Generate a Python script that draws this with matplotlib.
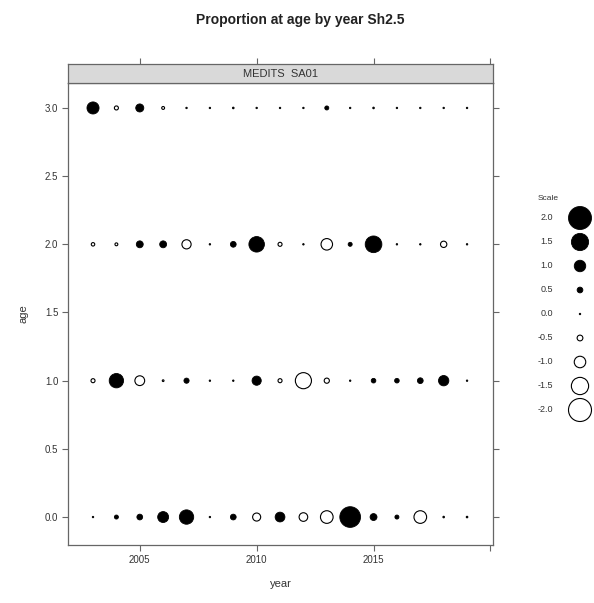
import matplotlib
matplotlib.use("Agg")
import matplotlib.pyplot as plt
import numpy as np

years = list(range(2003, 2020))
ages = [0, 1, 2, 3]
age0 = [0.10, 0.35, 0.50, 0.95, 1.25, 0.05, 0.50, -0.70, 0.85, -0.75, -1.10, 1.80, 0.60, 0.35, -1.10, -0.10, -0.05]
age1 = [-0.35, 1.25, -0.85, -0.15, 0.45, 0.10, 0.05, 0.80, -0.35, -1.40, -0.45, 0.05, 0.40, 0.40, 0.50, 0.90, 0.10]
age2 = [-0.30, -0.25, 0.60, 0.60, -0.80, 0.05, 0.50, 1.35, -0.35, 0.10, -1.00, 0.35, 1.45, 0.10, 0.10, -0.55, 0.10]
age3 = [1.05, -0.35, 0.70, -0.25, 0.10, 0.05, -0.05, 0.05, 0.05, 0.05, 0.35, 0.05, -0.10, 0.05, 0.05, 0.05, 0.05]
scale_vals = [2.0, 1.5, 1.0, 0.5, 0.0, -0.5, -1.0, -1.5, -2.0]
scale_labels = ["2.0", "1.5", "1.0", "0.5", "0.0", "-0.5", "-1.0", "-1.5", "-2.0"]
xticks = [2005, 2010, 2015, 2020]
xticklabels = ["2005", "2010", "2015", ""]
yticks = [0.0, 0.5, 1.0, 1.5, 2.0, 2.5, 3.0]

W, H = 594, 603
fig = plt.figure(figsize=(W / 100, H / 100), dpi=100)
plt.rcParams['font.family'] = ['Liberation Sans', 'DejaVu Sans']
TXT = '#333333'
LINE = '#666666'

def sizes(vals):
    d_px = np.maximum(np.abs(np.array(vals)) * 11.5, 1.5)
    return (d_px * 0.72) ** 2

def draw(ax, x, y, vals):
    vals = np.array(vals)
    pos = vals >= 0
    x = np.array(x); y = np.array(y)
    s = sizes(vals)
    ax.scatter(x[pos], y[pos], s=s[pos], c='black', edgecolors='black', linewidths=0.6, zorder=3)
    ax.scatter(x[~pos], y[~pos], s=s[~pos], facecolors='white', edgecolors='black', linewidths=0.8, zorder=3)

# main panel
L, R, T, B = 68, 493, 83, 545
ax = fig.add_axes([L / W, 1 - B / H, (R - L) / W, (B - T) / H])
for a, vals in zip(ages, [age0, age1, age2, age3]):
    draw(ax, years, [a] * len(years), vals)
ax.set_xlim(2001.93, 2020.11)
ax.set_ylim(-0.205, 3.183)
ax.set_xticks(xticks)
ax.set_xticklabels(xticklabels, fontsize=7, color=TXT)
ax.set_yticks(yticks)
ax.set_yticklabels([f"{v:.1f}" for v in yticks], fontsize=7, color=TXT)
ax.tick_params(axis='both', direction='out', length=4, width=0.8, color=LINE, pad=3,
               right=True, top=False)
ax.tick_params(axis='y', labelright=False)
for sp in ax.spines.values():
    sp.set_color(LINE)
    sp.set_linewidth(0.9)
ax.set_xlabel("year", fontsize=8, color=TXT, labelpad=10)
ax.set_ylabel("age", fontsize=8, color=TXT, labelpad=12)

# strip
ST = 64
sax = fig.add_axes([L / W, 1 - T / H, (R - L) / W, (T - ST) / H])
sax.set_facecolor('#d9d9d9')
sax.set_xlim(ax.get_xlim())
sax.set_xticks(xticks)
sax.set_xticklabels([])
sax.set_yticks([])
sax.tick_params(axis='x', direction='out', length=4, width=0.8, color=LINE, top=True, bottom=False,
                labeltop=False, labelbottom=False)
for sp in sax.spines.values():
    sp.set_color(LINE)
    sp.set_linewidth(0.9)
sax.text(0.5, 0.45, "MEDITS  SA01", transform=sax.transAxes, ha='center', va='center',
         fontsize=8, color=TXT)

fig.text(300 / W, 1 - 20 / H, "Proportion at age by year Sh2.5", ha='center', va='center',
         fontsize=10, fontweight='bold', color='#222222')

# legend
lax = fig.add_axes([0, 0, 1, 1])
lax.set_xlim(0, W)
lax.set_ylim(H, 0)
lax.axis('off')
lax.text(548, 198, "Scale", ha='center', va='center', fontsize=6, color=TXT)
ly = [218 + 24 * i for i in range(len(scale_vals))]
draw(lax, [580] * len(scale_vals), ly, scale_vals)
for yv, lab in zip(ly, scale_labels):
    lax.text(553, yv, lab, ha='right', va='center', fontsize=6.5, color=TXT)

fig.savefig("out.png", dpi=100)
